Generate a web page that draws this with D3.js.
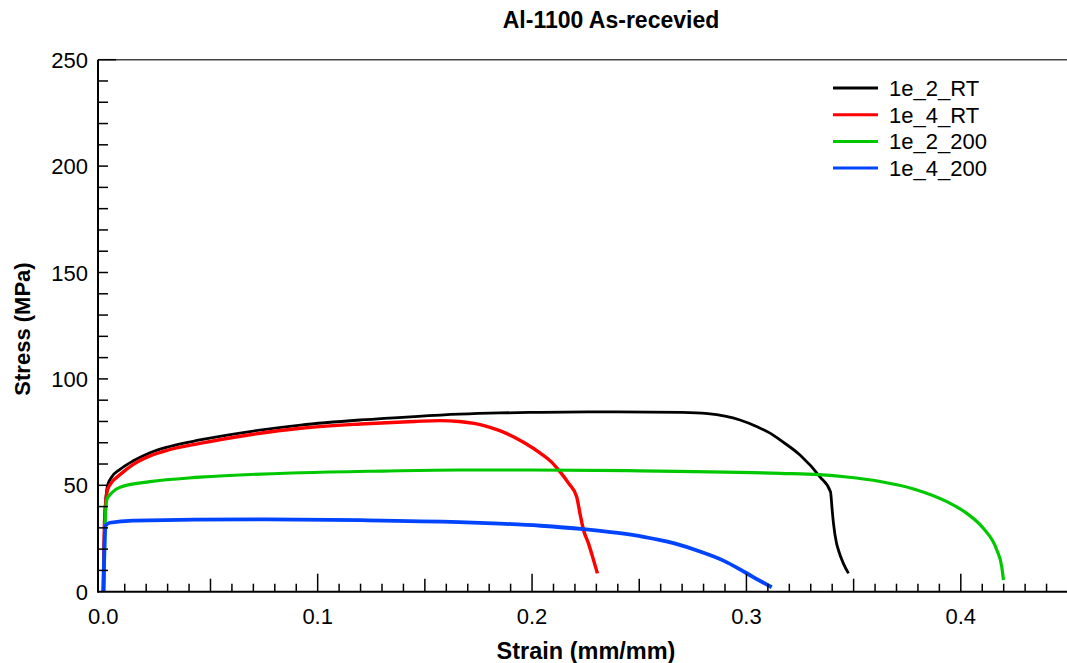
<!DOCTYPE html>
<html><head><meta charset="utf-8">
<script src="https://cdn.jsdelivr.net/npm/d3@7"></script>
<style>
html,body{margin:0;padding:0;background:#fff;}
svg{display:block;font-family:"Liberation Sans",Arial,sans-serif;}
</style></head>
<body><svg id="c" width="1067" height="663"></svg>
<script>
const seriesNames = ["1e_2_RT","1e_4_RT","1e_2_200","1e_4_200"];
const seriesColors = ["#000000","#ff0000","#00c800","#0044ff"];
const xTicks = [0.0,0.1,0.2,0.3,0.4];
const xTickLabels = ["0.0","0.1","0.2","0.3","0.4"];
const yTicks = [0,50,100,150,200,250];
const yTickLabels = ["0","50","100","150","200","250"];

const strain_1e_2_RT = [0,0.0008,0.002,0.004,0.0078,0.014,0.0218,0.03,0.045,0.07,0.092,0.12,0.145,0.166,0.185,0.204,0.24,0.27,0.282,0.29,0.297,0.305,0.3125,0.3157,0.325,0.3343,0.3392,0.340,0.3406,0.342,0.3429,0.3452,0.3476];
const stress_1e_2_RT = [0,38,50,54,57.5,61.5,65.3,68.0,71.3,75.5,78.3,80.7,82.3,83.4,84.0,84.3,84.5,84.3,83.7,82.5,80.7,77.5,73.6,71.3,64.2,54.0,47.0,38.4,32.1,22.9,19.6,13.3,8.6];

const strain_1e_4_RT = [0,0.0006,0.002,0.004,0.0078,0.014,0.0218,0.03,0.045,0.07,0.092,0.12,0.145,0.157,0.166,0.173,0.18,0.188,0.196,0.204,0.209,0.213,0.217,0.2208,0.2225,0.224,0.2263,0.2285,0.2305];
const stress_1e_4_RT = [0,34,48,51.5,55,59.8,63.8,66.5,69.7,74,76.8,78.8,80,80.4,80,79.1,77.3,74.4,70.2,65.0,61,56.4,51,44.6,36,29,22.7,15.5,8.6];

const strain_1e_2_200 = [0.0003,0.0008,0.0016,0.004,0.0078,0.0218,0.045,0.092,0.13,0.166,0.2,0.25,0.3157,0.334,0.3468,0.3623,0.378,0.3935,0.4028,0.4105,0.4168,0.4191,0.4199];
const stress_1e_2_200 = [0,30,43.1,46.5,49.1,51.7,53.8,55.9,56.7,57.2,57.2,56.8,55.6,55.0,53.9,51.8,48.3,42.3,36.8,29.8,19.6,11.7,5.5];

const strain_1e_4_200 = [0,0.0005,0.001,0.003,0.014,0.076,0.12,0.166,0.185,0.204,0.224,0.24,0.252,0.266,0.278,0.2895,0.297,0.303,0.3118];
const stress_1e_4_200 = [0,20,31,32.4,33.4,34.0,33.6,32.7,32.0,31.0,29.4,27.6,25.8,22.8,19.0,14.5,10.5,7.0,2.1];

const strains = [strain_1e_2_RT,strain_1e_4_RT,strain_1e_2_200,strain_1e_4_200];
const stresses = [stress_1e_2_RT,stress_1e_4_RT,stress_1e_2_200,stress_1e_4_200];

const svg = d3.select("#c");
const x = d3.scaleLinear().domain([0,0.45]).range([103.3,1068]);
const y = d3.scaleLinear().domain([0,250]).range([591.7,59.7]);
const axisLeft = 98;

// frame top
svg.append("line").attr("x1",axisLeft).attr("x2",1067).attr("y1",y(250)).attr("y2",y(250))
  .attr("stroke","#444").attr("stroke-width",1.5);

// curves
const line = d3.line().x(d=>x(d[0])).y(d=>y(d[1])).curve(d3.curveMonotoneX);
const widths = [2.8,3.4,3.2,3.8];
strains.forEach((s,i)=>{
  const pts = s.map((v,j)=>[v,stresses[i][j]]);
  svg.append("path").attr("d",line(pts)).attr("fill","none")
    .attr("stroke",seriesColors[i]).attr("stroke-width",widths[i]).attr("stroke-linejoin","round");
});

// axes
const g = svg.append("g");
g.append("line").attr("x1",axisLeft).attr("x2",1067).attr("y1",y(0)).attr("y2",y(0)).attr("stroke","#000").attr("stroke-width",2);
g.append("line").attr("x1",axisLeft).attr("x2",axisLeft).attr("y1",y(0)+1).attr("y2",y(250)).attr("stroke","#000").attr("stroke-width",2);
d3.range(1,46).forEach(k=>{
  const v=k/100; const len = k%10===0?18:(k%5===0?13:8);
  g.append("line").attr("x1",x(v)).attr("x2",x(v)).attr("y1",y(0)).attr("y2",y(0)-len).attr("stroke","#000").attr("stroke-width",1.5);
});
d3.range(1,26).forEach(k=>{
  const v=k*10; const len = k===25?18:10;
  g.append("line").attr("x1",axisLeft).attr("x2",axisLeft+len).attr("y1",y(v)).attr("y2",y(v)).attr("stroke","#000").attr("stroke-width",1.5);
});
xTicks.forEach((v,i)=>{
  g.append("text").attr("x",x(v)).attr("y",624).attr("text-anchor","middle").attr("font-size",22).text(xTickLabels[i]);
});
yTicks.forEach((v,i)=>{
  g.append("text").attr("x",88).attr("y",y(v)+8).attr("text-anchor","end").attr("font-size",22).text(yTickLabels[i]);
});

// titles
svg.append("text").attr("x",611).attr("y",28).attr("text-anchor","middle").attr("font-size",23).attr("font-weight","bold").text("Al-1100 As-recevied");
svg.append("text").attr("x",586).attr("y",659).attr("text-anchor","middle").attr("font-size",23.5).attr("font-weight","bold").text("Strain (mm/mm)");
svg.append("text").attr("transform","translate(30,329) rotate(-90)").attr("text-anchor","middle").attr("font-size",22).attr("font-weight","bold").text("Stress (MPa)");

// legend
seriesNames.forEach((n,i)=>{
  const ly = 88 + i*26.7;
  svg.append("line").attr("x1",833).attr("x2",878).attr("y1",ly).attr("y2",ly).attr("stroke",seriesColors[i]).attr("stroke-width",3);
  svg.append("text").attr("x",889).attr("y",ly+8).attr("font-size",22).text(n);
});
</script></body></html>
